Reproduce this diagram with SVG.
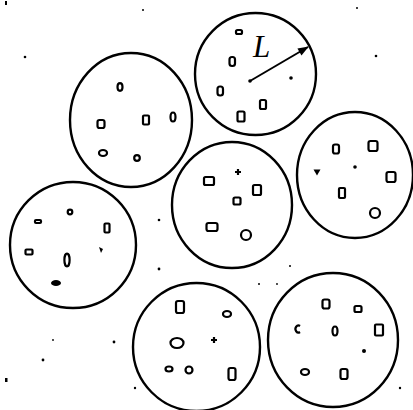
<svg xmlns="http://www.w3.org/2000/svg" width="413" height="410" viewBox="0 0 413 410">
<style>
.c{fill:none;stroke:#000;stroke-width:2.4}
.s{fill:none;stroke:#000;stroke-width:2.2}
.f{fill:#000}
.l{font-family:"Liberation Serif",serif;font-style:italic;font-size:31px;fill:#000}
</style>
<defs>
<marker id="ah" viewBox="0 0 12 10" refX="11" refY="5" markerWidth="13" markerHeight="9" orient="auto" markerUnits="userSpaceOnUse"><path d="M0,0.5 L12,5 L0,9.5 Z" fill="#000"/></marker>
</defs>
<rect width="413" height="410" fill="#fff"/>
<g id="dots" class="f">
<rect x="5" y="1" width="2" height="4"/>
<circle cx="143" cy="10" r="1"/>
<circle cx="25" cy="57" r="1.3"/>
<circle cx="357" cy="8" r="1"/>
<circle cx="376" cy="56" r="1.3"/>
<circle cx="159" cy="220" r="1.3"/>
<circle cx="159" cy="269" r="1.4"/>
<circle cx="53" cy="340" r="0.9"/>
<circle cx="114" cy="342" r="1.4"/>
<circle cx="43" cy="360" r="1.4"/>
<rect x="5" y="378" width="2.5" height="4"/>
<circle cx="259" cy="284" r="1"/>
<circle cx="277" cy="284" r="0.9"/>
<circle cx="135" cy="388" r="1.2"/>
<circle cx="400" cy="388" r="1.2"/>
<circle cx="290" cy="266" r="1"/>
</g>
<g id="particle1">
<ellipse class="c" cx="255.5" cy="74" rx="60.5" ry="61"/>
<rect class="s" x="236" y="30" width="6" height="4" rx="1.5"/>
<rect class="s" x="229.5" y="57" width="5.5" height="9" rx="2.5"/>
<rect class="s" x="217.5" y="86.5" width="5.5" height="9" rx="2.5"/>
<rect class="s" x="260" y="100" width="6" height="9" rx="1.5"/>
<rect class="s" x="237.5" y="111.5" width="7" height="10" rx="1.5"/>
<circle class="f" cx="291" cy="78" r="1.8"/>
<circle class="f" cx="250" cy="81" r="1.8"/>
<text class="l" x="253" y="57">L</text>
</g>
<g id="particle2">
<ellipse class="c" cx="131" cy="120" rx="61" ry="67"/>
<ellipse class="s" cx="120" cy="87" rx="2.5" ry="3.8"/>
<rect class="s" x="97.5" y="120" width="7" height="8" rx="2"/>
<rect class="s" x="143" y="115.5" width="6" height="9" rx="1"/>
<ellipse class="s" cx="173" cy="117" rx="2.5" ry="4.5"/>
<ellipse class="s" cx="103" cy="153" rx="4" ry="3"/>
<circle class="s" cx="137" cy="158" r="2.8"/>
</g>
<g id="particle3">
<ellipse class="c" cx="355" cy="175" rx="58" ry="63"/>
<rect class="s" x="333" y="144.5" width="6" height="9" rx="2"/>
<rect class="s" x="368.5" y="141" width="9" height="10" rx="2"/>
<path class="f" d="M313.5,169.5 L320.5,169.5 L317,175.5 Z"/>
<circle class="f" cx="355" cy="167" r="1.8"/>
<rect class="s" x="386.5" y="172" width="9" height="10" rx="2"/>
<rect class="s" x="339" y="188" width="6" height="10" rx="1"/>
<circle class="s" cx="375" cy="213" r="5"/>
</g>
<g id="particle4">
<ellipse class="c" cx="232" cy="205" rx="60" ry="63"/>
<path class="s" d="M238,169 V175 M235,172 H241"/>
<rect class="s" x="204" y="177" width="10" height="8" rx="1.5"/>
<rect class="s" x="253" y="185" width="8" height="10" rx="1.5"/>
<rect class="s" x="233.5" y="197.5" width="7" height="7" rx="1.5"/>
<rect class="s" x="206.5" y="223" width="11" height="8" rx="2"/>
<circle class="s" cx="246" cy="235" r="5"/>
</g>
<g id="particle5">
<ellipse class="c" cx="73" cy="245" rx="63" ry="63"/>
<circle class="s" cx="70" cy="212" r="2.3"/>
<rect class="s" x="35" y="220" width="6" height="3" rx="1"/>
<rect class="s" x="104.5" y="223.5" width="5" height="9" rx="1"/>
<rect class="s" x="25.5" y="249.5" width="7" height="5" rx="1"/>
<ellipse class="s" cx="67" cy="260" rx="2.6" ry="6.3"/>
<path class="f" d="M99,247 L103,249 L101,253 Z"/>
<ellipse class="f" cx="56" cy="283" rx="5" ry="3"/>
</g>
<g id="particle6">
<ellipse class="c" cx="196.5" cy="347" rx="63.5" ry="64"/>
<rect class="s" x="176" y="301" width="8" height="12" rx="2"/>
<ellipse class="s" cx="227" cy="314" rx="4" ry="3"/>
<ellipse class="s" cx="177" cy="343" rx="6.5" ry="5"/>
<path class="s" d="M214,337 V343 M211,340 H217"/>
<ellipse class="s" cx="169" cy="369" rx="3.5" ry="2.5"/>
<circle class="s" cx="189" cy="370" r="3.5"/>
<rect class="s" x="228.5" y="368" width="7" height="12" rx="2"/>
</g>
<g id="particle7">
<ellipse class="c" cx="333" cy="340" rx="65" ry="67"/>
<rect class="s" x="322.5" y="299.5" width="7" height="9" rx="2"/>
<rect class="s" x="354.5" y="306" width="7" height="6" rx="1.5"/>
<path class="s" d="M300,326 A3,3.5 0 1 0 300,332"/>
<ellipse class="s" cx="335" cy="331" rx="2.5" ry="4.5"/>
<rect class="s" x="375" y="324.5" width="8" height="11" rx="1"/>
<circle class="f" cx="364" cy="351" r="2"/>
<ellipse class="s" cx="305" cy="372" rx="4" ry="3"/>
<rect class="s" x="340.5" y="369" width="7" height="10" rx="2"/>
</g>
<g id="connectors">
<line x1="250" y1="81" x2="308" y2="47" stroke="#000" stroke-width="2" marker-end="url(#ah)"/>
</g>
</svg>
